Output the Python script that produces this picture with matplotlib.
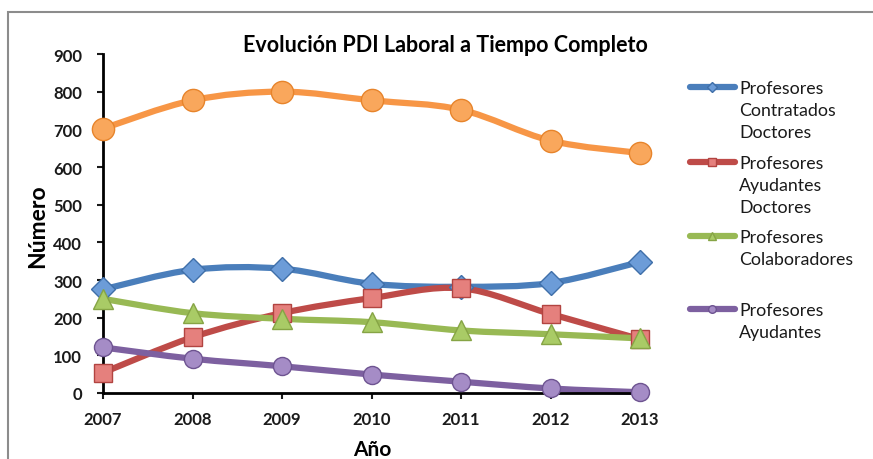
import numpy as np
import matplotlib
matplotlib.use('Agg')
import matplotlib.pyplot as plt
from matplotlib.path import Path
from matplotlib.patches import PathPatch, Rectangle
from matplotlib.lines import Line2D

plt.rcParams['font.family'] = ['Lato', 'DejaVu Sans']

years = [2007, 2008, 2009, 2010, 2011, 2012, 2013]
contratados = [275, 327, 330, 290, 282, 292, 348]
ayudantes_doc = [54, 148, 212, 252, 278, 210, 143]
colaboradores = [250, 212, 197, 188, 166, 156, 145]
ayudantes = [121, 91, 71, 49, 30, 12, 2]
total = [702, 777, 800, 777, 752, 670, 637]

labels = ['Profesores\nContratados\nDoctores', 'Profesores\nAyudantes\nDoctores',
          'Profesores\nColaboradores', 'Profesores\nAyudantes']


def smooth_path(x, y, t=1 / 6.):
    # excel style smoothed line: cubic bezier through every point
    x = np.asarray(x, float)
    y = np.asarray(y, float)
    verts = [(x[0], y[0])]
    codes = [Path.MOVETO]
    n = len(x)
    for i in range(n - 1):
        i0 = max(i - 1, 0)
        i3 = min(i + 2, n - 1)
        c1 = (x[i] + (x[i + 1] - x[i0]) * t, y[i] + (y[i + 1] - y[i0]) * t)
        c2 = (x[i + 1] - (x[i3] - x[i]) * t, y[i + 1] - (y[i3] - y[i]) * t)
        verts += [c1, c2, (x[i + 1], y[i + 1])]
        codes += [Path.CURVE4] * 3
    return Path(verts, codes)


W, H = 873, 460
fig = plt.figure(figsize=(W / 100, H / 100), dpi=100)
fig.patches.append(Rectangle((8 / W, -0.1), 1.2, 1 - 13 / H + 0.1, transform=fig.transFigure,
                             fill=False, edgecolor='#8c8c8c', linewidth=1.5))
ax = fig.add_axes([103 / W, 1 - 394 / H, (640 - 103) / W, (394 - 55) / H])

series = [
    (total, '#F79646', 'o', '#F9A75C', '#E7842B', 16, None),
    (contratados, '#4A7EBB', 'D', '#6C9CD8', '#3F6FA9', 12.5, labels[0]),
    (ayudantes_doc, '#BE4B48', 's', '#E5807D', '#B24441', 13, labels[1]),
    (colaboradores, '#98B954', '^', '#A9CB66', '#86A445', 15, labels[2]),
    (ayudantes, '#7D60A0', 'o', '#A58CC6', '#6E5491', 13, labels[3]),
]

# legend rows (first text line centre, pixels from top)
leg_y = [88, 163, 237, 310]
k = 0
for vals, col, mk, fc, ec, ms, lab in series:
    ax.add_patch(PathPatch(smooth_path(years, vals), facecolor='none', edgecolor=col,
                           linewidth=4.5, capstyle='round', joinstyle='round', clip_on=False, zorder=2))
    ax.plot(years, vals, linestyle='none', marker=mk, markersize=ms, markerfacecolor=fc,
            markeredgecolor=ec, markeredgewidth=1, clip_on=False, zorder=3)
    if lab is not None:
        yy = 1 - leg_y[k] / H
        fig.add_artist(Line2D([690 / W, 735 / W], [yy, yy], transform=fig.transFigure, color=col,
                              linewidth=4.5, solid_capstyle='round'))
        fig.add_artist(Line2D([712 / W], [yy], transform=fig.transFigure, linestyle='none', marker=mk,
                              markersize=5.5, markerfacecolor=fc, markeredgecolor=ec))
        fig.text(739 / W, yy + 7 / H, lab, ha='left', va='top', fontsize=12.8, linespacing=1.45,
                 color='#1a1a1a')
        k += 1

ax.set_xlim(2007, 2013)
ax.set_ylim(0, 900)
ax.set_yticks(range(0, 901, 100))
ax.set_xticks(years)
for s in ['top', 'right']:
    ax.spines[s].set_visible(False)
for s in ['left', 'bottom']:
    ax.spines[s].set_linewidth(2)
ax.tick_params(axis='both', width=1.5, length=4, labelsize=12, colors='#1a1a1a')
ax.tick_params(axis='y', pad=11)
ax.tick_params(axis='x', pad=9)
for t in ax.get_xticklabels() + ax.get_yticklabels():
    t.set_fontweight('bold')
fig.text(372 / W, 1 - 450 / H, 'Año', ha='center', va='center', fontsize=15, fontweight='bold')
fig.text(38 / W, 1 - 226 / H, 'Número', ha='center', va='center', rotation=90, fontsize=16.5,
         fontweight='bold')
fig.text(445 / W, 1 - 46 / H, 'Evolución PDI Laboral a Tiempo Completo', ha='center', va='center',
         fontsize=15.5, fontweight='bold')

fig.savefig('out.png', dpi=100)
